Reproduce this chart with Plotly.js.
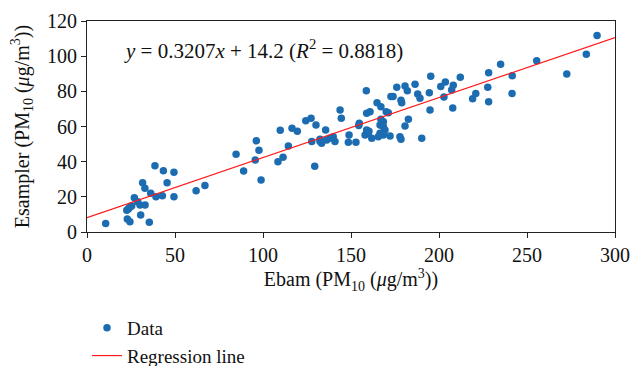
<!DOCTYPE html>
<html>
<head>
<meta charset="utf-8">
<script src="https://cdn.plot.ly/plotly-3.0.1.min.js"></script>
<style>html,body{margin:0;padding:0;background:#fff;}#chart{width:631px;height:366px;}</style>
</head>
<body>
<div id="chart"></div>
<script>
const ebam = [
  10.6,22.6,23.5,24,25.4,22.9,24.4,26.9,28.8,30.1,33,30.5,31.6,32.9,35.4,36.2,38.6,39.2,42.8,43.4,45.5,49.4,49.4,62,67,
  84.7,89,95.6,96.2,97.7,98.9,108.5,109.8,111.4,114.4,116.5,119.5,124.3,127.3,130.1,129.4,127.7,132.4,133.3,132.4,135.6,136.2,138,139.9,140.9,143.8,144.5,148.9,148.5,152.8,154.7,154.4,
  158.7,158.9,160.8,158.9,159.8,158,161.8,160.2,164.8,167,170,171.2,167,168.4,166.5,168.4,169.3,166.5,165.5,168.4,172.2,172.7,173.9,176,177.8,178.4,178.4,178.8,180.7,180.7,182,182.6,186.4,187.9,189.2,190.2,194.5,194.9,195.3,
  201,203.6,202.8,208.1,207.2,212.1,207.8,219.1,220.9,228.2,227.7,228.2,235,241.6,241.5,255.5,272.6,283.7,289.8
];
const esampler = [
  4.9,12.3,13.1,13.8,14.8,7.4,5.9,19.5,17.2,15.4,15.4,9.7,28,24.9,5.5,22,37.7,20.1,20.6,34.9,28,34,20.1,23.5,26.4,
  44.2,34.7,41,51.9,46.5,29.6,40,57.8,42.5,48.9,59,57.3,63.3,64.7,60.9,37.4,51.4,51.4,50.5,52.7,58,52.3,53.3,54.2,51.4,69.4,64.7,55.2,51,51,61.8,60.5,
  80.4,67.5,68.4,58,56.1,55.2,53.3,57.3,73.5,71.3,68.4,67.8,64.1,62.7,60.9,59.9,58,56.1,54.2,55.2,54.6,77,77,82.3,54.2,52.7,75,73.5,83,60.3,80.4,64.1,84,78.5,76,53.3,79.2,69.4,88.6,
  82.7,85.3,76.8,83.5,80.7,88,70.5,75.8,78.7,90.6,82.3,74.1,95.4,88.9,78.7,97.4,89.9,101.1,111.7
];
const lineX = [0, 300];
const lineY = [8.2, 110.6];
const xTicks = [0, 50, 100, 150, 200, 250, 300];
const yTicks = [0, 20, 40, 60, 80, 100, 120];
const equationText = '<i>y</i> = 0.3207<i>x</i> + 14.2 (<i>R</i><sup>2</sup> = 0.8818)';

const serif = '"Liberation Serif", "DejaVu Serif", serif';

const traces = [
  {x: ebam, y: esampler, mode: 'markers', type: 'scatter', name: 'Data',
   marker: {color: '#1c6cb2', size: 7.5}},
  {x: lineX, y: lineY, mode: 'lines', type: 'scatter', name: 'Regression line',
   line: {color: '#ff1a1a', width: 1.2}}
];

const axisCommon = {
  showgrid: false, zeroline: false, showline: true, mirror: true, automargin: false,
  linecolor: '#222', linewidth: 1, ticks: 'outside', ticklen: 5, tickcolor: '#222',
  tickfont: {family: serif, size: 20, color: '#111'}
};

const layout = {
  width: 631, height: 366,
  margin: {l: 87, r: 16, t: 21, b: 134, autoexpand: false},
  paper_bgcolor: '#fff', plot_bgcolor: '#fff',
  font: {family: serif, color: '#111'},
  xaxis: Object.assign({}, axisCommon, {
    range: [0, 300], tickvals: xTicks, ticktext: xTicks.map(String),
    title: {text: 'Ebam (PM<sub>10</sub> (<i>μ</i>g/m<sup>3</sup>))', font: {family: serif, size: 20, color: '#111'}, standoff: 5}
  }),
  yaxis: Object.assign({}, axisCommon, {
    range: [0, 120], tickvals: yTicks, ticktext: yTicks.map(String),
    title: {text: 'Esampler (PM<sub>10</sub> (<i>μ</i>g/m<sup>3</sup>))', font: {family: serif, size: 20, color: '#111'}, standoff: 12}
  }),
  showlegend: true,
  legend: {x: 0.0, xanchor: 'left', y: -0.365, yanchor: 'top', font: {family: serif, size: 19, color: '#111'},
           bgcolor: 'rgba(0,0,0,0)', tracegroupgap: 0},
  annotations: [{
    x: 20, y: 104, xref: 'x', yref: 'y', xanchor: 'left', yanchor: 'middle',
    text: equationText, showarrow: false, font: {family: serif, size: 21, color: '#111'}
  }]
};

Plotly.newPlot('chart', traces, layout, {staticPlot: true, displayModeBar: false});
</script>
</body>
</html>
